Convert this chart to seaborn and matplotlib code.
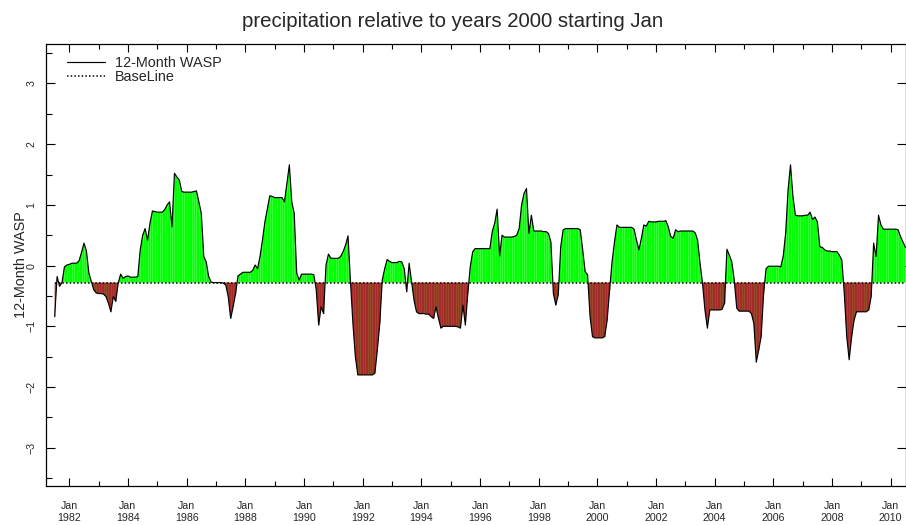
import numpy as np
import pandas as pd
import matplotlib
matplotlib.use("Agg")
import matplotlib.pyplot as plt
import seaborn as sns
from matplotlib.ticker import FixedLocator, MultipleLocator

# Monthly 12-month WASP index, starting July 1981
start_year = 1981.5
wasp = [
    -0.84, -0.18, -0.34, -0.28, -0.02, 0.01,                       # 1981 Jul-Dec
    0.02, 0.04, 0.04, 0.04, 0.08, 0.22, 0.37, 0.24, -0.12, -0.26, -0.40, -0.45,   # 1982
    -0.46, -0.46, -0.47, -0.51, -0.62, -0.76, -0.51, -0.59, -0.29, -0.14, -0.21, -0.18,  # 1983
    -0.17, -0.19, -0.19, -0.19, -0.18, 0.26, 0.50, 0.61, 0.42, 0.70, 0.90, 0.89,  # 1984
    0.88, 0.88, 0.88, 0.92, 1.00, 1.05, 0.64, 1.52, 1.46, 1.41, 1.22, 1.21,      # 1985
    1.21, 1.21, 1.21, 1.22, 1.23, 1.05, 0.86, 0.15, 0.06, -0.18, -0.27, -0.28,   # 1986
    -0.28, -0.28, -0.28, -0.29, -0.32, -0.51, -0.87, -0.68, -0.46, -0.17, -0.14, -0.11,  # 1987
    -0.11, -0.11, -0.11, -0.08, 0.01, -0.05, 0.15, 0.42, 0.72, 0.94, 1.15, 1.14,  # 1988
    1.12, 1.12, 1.12, 1.12, 1.05, 1.36, 1.66, 1.05, 0.86, -0.12, -0.24, -0.14,   # 1989
    -0.14, -0.14, -0.14, -0.14, -0.15, -0.40, -0.98, -0.68, -0.79, 0.01, 0.19, 0.12,  # 1990
    0.12, 0.12, 0.12, 0.15, 0.23, 0.34, 0.49, -0.26, -0.95, -1.50, -1.80, -1.80,  # 1991
    -1.80, -1.80, -1.80, -1.80, -1.80, -1.77, -1.39, -0.95, -0.24, -0.05, 0.10, 0.07,  # 1992
    0.05, 0.05, 0.05, 0.07, 0.06, -0.05, -0.43, 0.04, -0.26, -0.57, -0.76, -0.79,  # 1993
    -0.79, -0.79, -0.80, -0.80, -0.84, -0.87, -0.68, -0.87, -1.03, -1.00, -1.00, -1.00,  # 1994
    -1.00, -1.00, -1.00, -1.01, -1.03, -0.65, -0.98, -0.46, -0.02, 0.23, 0.28, 0.28,  # 1995
    0.28, 0.28, 0.28, 0.28, 0.28, 0.56, 0.70, 0.93, 0.16, 0.50, 0.47, 0.47,      # 1996
    0.47, 0.47, 0.48, 0.50, 0.61, 1.00, 1.19, 1.27, 0.53, 0.83, 0.57, 0.57,      # 1997
    0.57, 0.57, 0.56, 0.56, 0.53, 0.39, -0.46, -0.65, -0.48, 0.31, 0.59, 0.61,   # 1998
    0.61, 0.61, 0.61, 0.61, 0.61, 0.59, 0.26, -0.10, -0.15, -0.84, -1.17, -1.19,  # 1999
    -1.19, -1.19, -1.19, -1.17, -0.90, -0.40, 0.06, 0.39, 0.67, 0.63, 0.63, 0.63,  # 2000
    0.63, 0.63, 0.63, 0.60, 0.42, 0.26, 0.45, 0.67, 0.65, 0.73, 0.72, 0.72,      # 2001
    0.72, 0.73, 0.73, 0.73, 0.74, 0.64, 0.48, 0.45, 0.59, 0.56, 0.57, 0.57,      # 2002
    0.57, 0.57, 0.57, 0.57, 0.54, 0.42, 0.04, -0.29, -0.73, -1.03, -0.73, -0.73,  # 2003
    -0.73, -0.73, -0.73, -0.72, -0.62, 0.27, 0.17, 0.06, -0.24, -0.70, -0.75, -0.75,  # 2004
    -0.75, -0.75, -0.75, -0.79, -0.95, -1.59, -1.39, -1.17, -0.46, -0.05, -0.01, -0.01,  # 2005
    -0.01, -0.01, -0.01, -0.02, 0.15, 0.53, 1.25, 1.66, 1.14, 0.83, 0.82, 0.82,  # 2006
    0.82, 0.83, 0.83, 0.88, 0.76, 0.80, 0.72, 0.31, 0.30, 0.26, 0.24, 0.24,      # 2007
    0.23, 0.23, 0.23, 0.17, 0.09, -0.46, -1.17, -1.55, -1.17, -0.90, -0.76, -0.76,  # 2008
    -0.76, -0.76, -0.76, -0.73, -0.51, 0.37, 0.15, 0.83, 0.67, 0.60, 0.60, 0.60,  # 2009
    0.60, 0.60, 0.60, 0.59, 0.48, 0.39, 0.30,                                     # 2010 Jan-Jul
]
baseline = -0.28

label_years = list(range(1982, 2011, 2))
minor_years = list(range(1981, 2012, 2))
tick_labels = [f"Jan\n{y}" for y in label_years]
y_major = [-3, -2, -1, 0, 1, 2, 3]

sns.set_style("ticks")
plt.rcParams["font.family"] = ["Liberation Sans", "DejaVu Sans"]

W, H = 906, 525
fig = plt.figure(figsize=(W / 100, H / 100), dpi=100)
left, right, top, bottom = 46, 906, 44, 486
ax = fig.add_axes([left / W, 1 - bottom / H, (right - left) / W, (bottom - top) / H])

df = pd.DataFrame({"year": start_year + np.arange(len(wasp)) / 12.0, "wasp": wasp})
x = df["year"].to_numpy()
v = df["wasp"].to_numpy()

# wet (above baseline) and dry (below baseline) areas
ax.fill_between(x, v, baseline, where=v >= baseline, interpolate=True,
                color="#00ff00", lw=0, zorder=1)
ax.fill_between(x, v, baseline, where=v <= baseline, interpolate=True,
                color="#a52a2a", lw=0, zorder=1)
# thin monthly seams inside the filled areas
wet = v >= baseline
ax.vlines(x[wet], baseline, v[wet], colors="white", alpha=0.35, lw=0.45, zorder=2)
ax.vlines(x[~wet], v[~wet], baseline, colors="#7f8a2a", alpha=0.55, lw=0.45, zorder=2)

sns.lineplot(data=df, x="year", y="wasp", color="black", lw=0.85, ax=ax,
             label="12-Month WASP", zorder=4)
base_df = pd.DataFrame({"year": x, "base": np.full_like(x, baseline)})
sns.lineplot(data=base_df, x="year", y="base", color="black", lw=1.1,
             linestyle=(0, (1, 1.4)), ax=ax, label="BaseLine", zorder=3)

ax.set_xlim(1981.205, 2010.52)
ax.set_ylim(-3.63, 3.65)

ax.xaxis.set_major_locator(FixedLocator(label_years))
ax.xaxis.set_minor_locator(FixedLocator(minor_years))
ax.set_xticklabels(tick_labels, linespacing=1.35)
ax.yaxis.set_major_locator(FixedLocator(y_major))
ax.yaxis.set_minor_locator(MultipleLocator(0.5))

ax.tick_params(which="both", direction="in", top=True, right=True, width=0.8, color="black")
ax.tick_params(axis="x", which="major", length=6, labelsize=7.7, pad=10.5)
ax.tick_params(axis="x", which="minor", length=3.8)
ax.tick_params(axis="y", which="major", length=6.3, labelsize=7.7, pad=7, labelrotation=90)
ax.tick_params(axis="y", which="minor", length=4.3, right=False)
for lab in ax.get_yticklabels():
    lab.set_va("center")

for s in ax.spines.values():
    s.set_linewidth(0.9)
    s.set_color("black")

ax.set_xlabel("")
ax.set_ylabel("12-Month WASP", fontsize=10.4)
ax.yaxis.set_label_coords((28 - left) / (right - left), 0.5)

leg = ax.legend(loc="upper left", bbox_to_anchor=((67 - left) / (right - left), 0.973),
                frameon=False, fontsize=10.4, handlelength=2.6, handletextpad=0.7,
                labelspacing=0.0, borderpad=0, borderaxespad=0)

fig.text(0.5, 1 - 27 / H, "precipitation relative to years 2000 starting Jan",
         ha="center", va="baseline", fontsize=14.7)

fig.savefig("out.png", dpi=100)
